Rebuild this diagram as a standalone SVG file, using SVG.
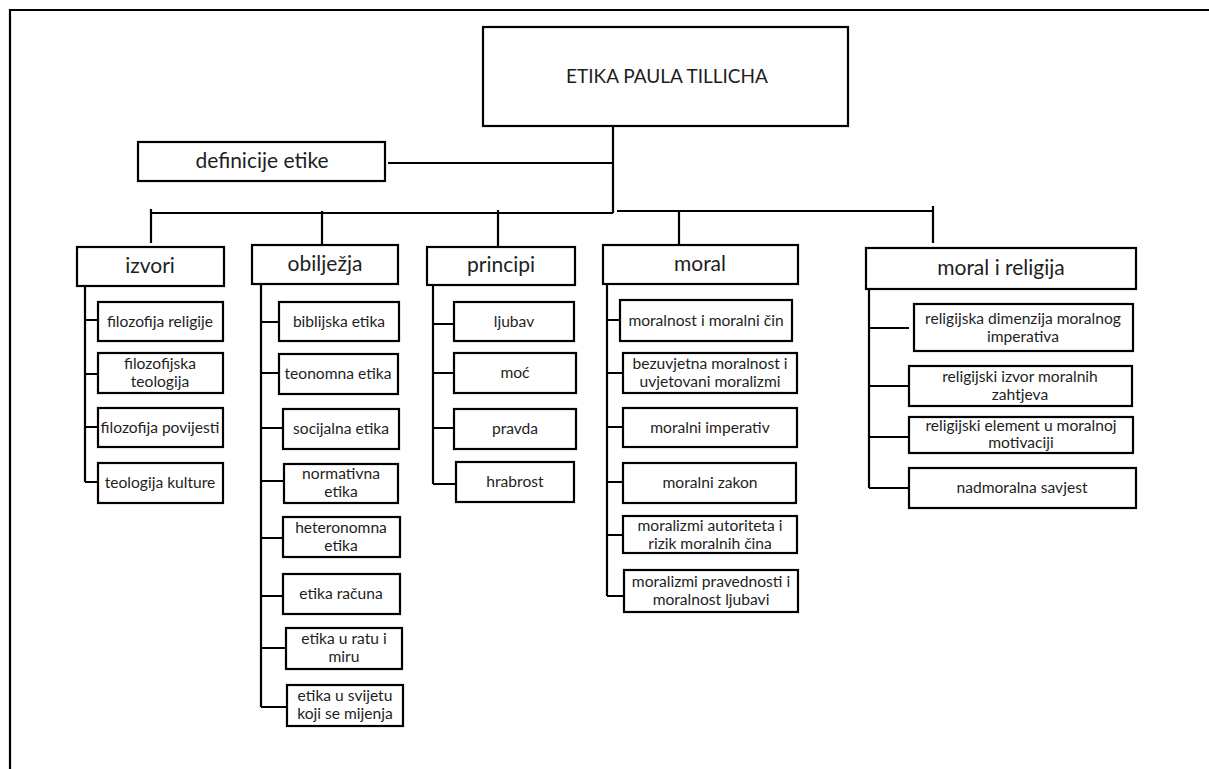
<svg xmlns="http://www.w3.org/2000/svg" width="1209" height="769" viewBox="0 0 1209 769">
<style>
  .box { fill: #fff; stroke: #000; stroke-width: 2.2; }
  .ln { fill: none; stroke: #000; stroke-width: 2.2; }
  text { font-family: Lato, "Open Sans", "Liberation Sans", sans-serif; fill: #1e1e1e; text-anchor: middle; }
  .t0 { font-size: 19px; }
  .t1 { font-size: 21px; }
  .t2 { font-size: 15.6px; }
</style>
<rect width="1209" height="769" fill="#fff"/>
<g id="frame">
  <path class="ln" d="M9,10 H1209 M10,9 V769" stroke="#222" stroke-width="2.5"/>
</g>
<g id="connectors">
  <path class="ln" d="M613,126 V213 M388,163 H613 M151,213 H613 M617,211 H933"/>
  <path class="ln" d="M151,209 V243 M322,211 V244 M498,210 V246 M679,211 V244 M933,206 V243"/>
  <!-- izvori -->
  <path class="ln" d="M85,286 V482 M85,320 H98 M85,374 H98 M85,427 H98 M85,482 H98"/>
  <!-- obiljezja -->
  <path class="ln" d="M261,284 V707 M261,322 H279 M261,373 H279 M261,428 H283 M261,481 H284 M261,538 H283 M261,596 H283 M261,648 H286 M261,707 H287"/>
  <!-- principi -->
  <path class="ln" d="M433,285 V484 M433,324 H454 M433,373 H454 M433,428 H454 M433,484 H456"/>
  <!-- moral -->
  <path class="ln" d="M607,284 V596 M607,320 H620 M607,373 H623 M607,427 H623 M607,482 H623 M607,535 H623 M607,596 H624"/>
  <!-- moral i religija -->
  <path class="ln" d="M869,289 V488 M869,328 H909 M869,386 H909 M869,437 H909 M869,488 H909"/>
</g>
<g id="n-root"><rect class="box" x="483" y="27" width="365" height="99"/><text class="t0" x="667" y="83">ETIKA PAULA TILLICHA</text></g>
<g id="n-definicije"><rect class="box" x="138" y="142" width="247" height="39"/><text class="t1" x="262" y="168">definicije etike</text></g>
<g id="n-izvori"><rect class="box" x="77" y="247" width="147" height="39"/><text class="t1" x="150" y="273">izvori</text></g>
<g id="n-obiljezja"><rect class="box" x="252" y="245" width="146" height="39"/><text class="t1" x="325" y="271">obilježja</text></g>
<g id="n-principi"><rect class="box" x="427" y="247" width="148" height="38"/><text class="t1" x="501" y="272">principi</text></g>
<g id="n-moral"><rect class="box" x="603" y="245" width="195" height="39"/><text class="t1" x="700" y="271">moral</text></g>
<g id="n-moral-religija"><rect class="box" x="866" y="248" width="270" height="41"/><text class="t1" x="1001" y="275">moral i religija</text></g>

<g id="n-fil-rel"><rect class="box" x="98" y="302" width="125" height="39"/><text class="t2" x="160" y="327">filozofija religije</text></g>
<g id="n-fil-teo"><rect class="box" x="98" y="353" width="125" height="40"/><text class="t2" x="160" y="369">filozofijska</text><text class="t2" x="160" y="387">teologija</text></g>
<g id="n-fil-pov"><rect class="box" x="98" y="408" width="125" height="39"/><text class="t2" x="160" y="433">filozofija povijesti</text></g>
<g id="n-teo-kul"><rect class="box" x="98" y="463" width="125" height="40"/><text class="t2" x="160" y="488">teologija kulture</text></g>

<g id="n-biblijska"><rect class="box" x="279" y="302" width="120" height="39"/><text class="t2" x="339" y="327">biblijska etika</text></g>
<g id="n-teonomna"><rect class="box" x="279" y="354" width="119" height="40"/><text class="t2" x="338" y="379">teonomna etika</text></g>
<g id="n-socijalna"><rect class="box" x="283" y="409" width="116" height="40"/><text class="t2" x="341" y="434">socijalna etika</text></g>
<g id="n-normativna"><rect class="box" x="284" y="464" width="114" height="39"/><text class="t2" x="341" y="479">normativna</text><text class="t2" x="341" y="497">etika</text></g>
<g id="n-heteronomna"><rect class="box" x="283" y="517" width="117" height="40"/><text class="t2" x="341" y="533">heteronomna</text><text class="t2" x="341" y="551">etika</text></g>
<g id="n-racuna"><rect class="box" x="283" y="574" width="117" height="40"/><text class="t2" x="341" y="599">etika računa</text></g>
<g id="n-ratu"><rect class="box" x="286" y="628" width="116" height="41"/><text class="t2" x="344" y="644">etika u ratu i</text><text class="t2" x="344" y="662">miru</text></g>
<g id="n-svijetu"><rect class="box" x="287" y="685" width="116" height="41"/><text class="t2" x="345" y="701">etika u svijetu</text><text class="t2" x="345" y="719">koji se mijenja</text></g>

<g id="n-ljubav"><rect class="box" x="454" y="302" width="120" height="39"/><text class="t2" x="514" y="327">ljubav</text></g>
<g id="n-moc"><rect class="box" x="454" y="353" width="122" height="40"/><text class="t2" x="515" y="378">moć</text></g>
<g id="n-pravda"><rect class="box" x="454" y="409" width="122" height="40"/><text class="t2" x="515" y="434">pravda</text></g>
<g id="n-hrabrost"><rect class="box" x="456" y="462" width="118" height="40"/><text class="t2" x="515" y="487">hrabrost</text></g>

<g id="n-moralnost-cin"><rect class="box" x="620" y="300" width="172" height="41"/><text class="t2" x="706" y="326">moralnost i moralni čin</text></g>
<g id="n-bezuvjetna"><rect class="box" x="623" y="353" width="174" height="40"/><text class="t2" x="710" y="369">bezuvjetna moralnost i</text><text class="t2" x="710" y="387">uvjetovani moralizmi</text></g>
<g id="n-imperativ"><rect class="box" x="623" y="408" width="174" height="39"/><text class="t2" x="710" y="433">moralni imperativ</text></g>
<g id="n-zakon"><rect class="box" x="623" y="463" width="173" height="40"/><text class="t2" x="710" y="488">moralni zakon</text></g>
<g id="n-autoriteta"><rect class="box" x="623" y="516" width="174" height="37"/><text class="t2" x="710" y="531">moralizmi autoriteta i</text><text class="t2" x="710" y="549">rizik moralnih čina</text></g>
<g id="n-pravednosti"><rect class="box" x="624" y="570" width="174" height="42"/><text class="t2" x="711" y="587">moralizmi pravednosti i</text><text class="t2" x="711" y="605">moralnost ljubavi</text></g>

<g id="n-dimenzija"><rect class="box" x="914" y="304" width="219" height="47"/><text class="t2" x="1023" y="324">religijska dimenzija moralnog</text><text class="t2" x="1023" y="342">imperativa</text></g>
<g id="n-izvor"><rect class="box" x="909" y="366" width="223" height="40"/><text class="t2" x="1020" y="382">religijski izvor moralnih</text><text class="t2" x="1020" y="400">zahtjeva</text></g>
<g id="n-element"><rect class="box" x="909" y="417" width="224" height="36"/><text class="t2" x="1021" y="431">religijski element u moralnoj</text><text class="t2" x="1021" y="448">motivaciji</text></g>
<g id="n-savjest"><rect class="box" x="909" y="468" width="227" height="40"/><text class="t2" x="1022" y="493">nadmoralna savjest</text></g>
</svg>
